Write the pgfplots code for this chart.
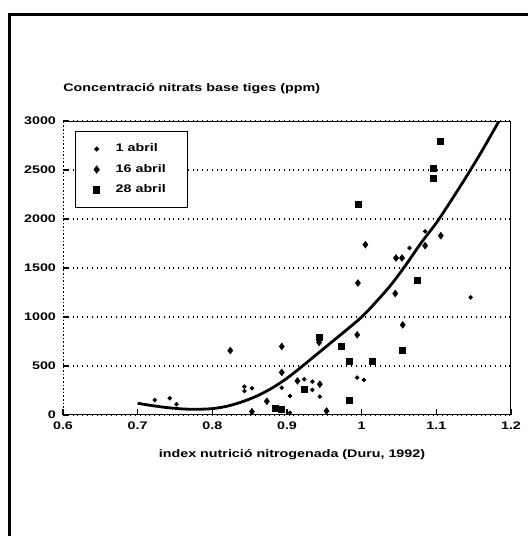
\documentclass[border=0pt]{standalone}
\usepackage{pgfplots}
\pgfplotsset{compat=1.18}
\usepackage{fontspec}
\setmainfont{Liberation Sans}[FakeStretch=1.3]
\newcommand{\cf}{\bfseries\fontsize{5.5}{6.5}\selectfont}

\begin{document}
\begin{tikzpicture}[x=1pt,y=1pt]
\path[use as bounding box] (0,0) rectangle (263.5,268);
% outer frame of the scanned figure
\draw[line width=1.5pt] (4.5,-3) -- (4.5,260.5) -- (268,260.5);
\begin{axis}[
    at={(31.5pt,60.5pt)}, anchor=south west,
    scale only axis, width=224pt, height=147pt,
    xmin=0.6, xmax=1.2,
    ymin=0, ymax=3000,
    xtick={0.6,0.7,0.8,0.9,1,1.1,1.2},
    ytick={0,500,1000,1500,2000,2500,3000},
    scaled y ticks=false,
    /pgf/number format/1000 sep={},
    /pgf/number format/assume math mode=true,
    ticklabel style={font=\cf},
    xtick pos=bottom, ytick pos=left,
    tick align=inside,
    major tick length=3pt,
    tick style={black, line width=0.8pt},
    axis line style={draw=none},
    ymajorgrids,
    grid style={dotted, line width=0.8pt, black},
    title={Concentració nitrats base tiges (ppm)},
    title style={font=\cf, at={(0,1)}, anchor=base west, yshift=9pt, inner sep=0pt},
    xlabel={index nutrició nitrogenada (Duru, 1992)},
    xlabel style={font=\cf, at={(0.5,0)}, anchor=center, yshift=-20pt, xshift=2.5pt},
    legend style={font=\cf, at={(0.027,0.966)}, anchor=north west,
        draw=black, line width=0.6pt, fill=white,
        inner xsep=9pt, inner ysep=4pt, row sep=0.75pt},
    legend cell align=left,
]
% 1 abril
\addplot[only marks, mark=*, mark size=0.9pt, black] coordinates {
    (0.723,153) (0.743,171) (0.752,109)
    (0.843,290) (0.843,245) (0.853,273)
    (0.893,279) (0.904,194) (0.904,24)
    (0.923,365) (0.934,341) (0.934,256) (0.944,187)
    (0.994,381) (1.003,358)
    (1.064,1704) (1.085,1874) (1.146,1200)
};
\addlegendentry{\hspace{6pt}1 abril\hspace{5pt}}
% 16 abril
\addplot[only marks, mark=diamond*, mark size=1.6pt, black] coordinates {
    (0.824,658) (0.853,34) (0.873,140)
    (0.893,700) (0.893,435) (0.914,348)
    (0.943,740) (0.944,314) (0.953,41)
    (0.994,818) (0.995,1347) (1.005,1738)
    (1.045,1240) (1.046,1602) (1.054,1602) (1.055,920)
    (1.085,1728) (1.106,1830)
};
\addlegendentry{\hspace{6pt}16 abril\hspace{5pt}}
% 28 abril
\addplot[only marks, mark=square*, mark size=1.5pt, black] coordinates {
    (0.884,68) (0.893,58) (0.923,262)
    (0.943,790) (0.973,698) (0.983,146) (0.983,552)
    (0.995,2154) (1.015,552) (1.054,660)
    (1.075,1377) (1.096,2410) (1.096,2515) (1.105,2790)
};
\addlegendentry{\hspace{6pt}28 abril\hspace{5pt}}
% fitted curve
\addplot[smooth, line width=1.4pt, black, forget plot] coordinates {
    (0.70,120) (0.72,95) (0.74,75) (0.76,62) (0.777,58) (0.80,65)
    (0.82,90) (0.84,135) (0.86,195) (0.88,275) (0.90,375) (0.92,495)
    (0.94,620) (0.96,745) (0.98,870) (1.00,1000) (1.02,1160)
    (1.04,1335) (1.06,1540) (1.08,1760) (1.10,1960) (1.12,2190)
    (1.14,2430) (1.16,2680) (1.184,3000)
};
% axis frame: solid bottom, right and top, dotted left
\draw[line width=1.2pt] (rel axis cs:0,0) -- (rel axis cs:1,0)
    -- (rel axis cs:1,1) -- (rel axis cs:0,1);
\draw[densely dotted, line width=0.8pt] (rel axis cs:0,0) -- (rel axis cs:0,1);
\end{axis}
\end{tikzpicture}
\end{document}
